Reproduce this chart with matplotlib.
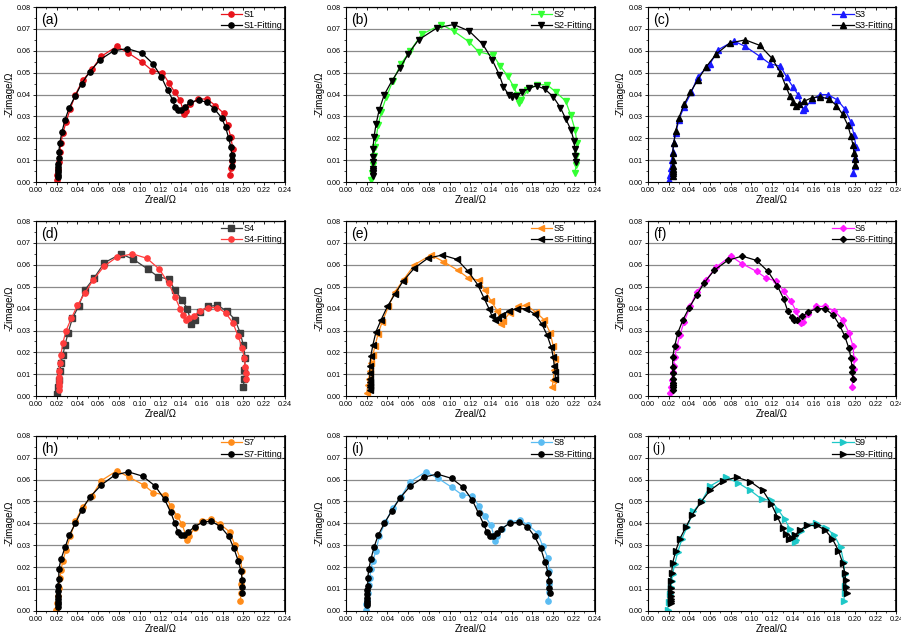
import matplotlib
matplotlib.use("Agg")
import matplotlib.pyplot as plt
from matplotlib.ticker import MultipleLocator, FormatStrFormatter, NullFormatter
import numpy as np

plt.rcParams["font.family"] = ["Liberation Sans", "DejaVu Sans"]

# ---- data (Zreal, -Zimage) ----
s1_x = [0.020, 0.020, 0.021, 0.022, 0.023, 0.024, 0.026, 0.029, 0.033, 0.038, 0.045, 0.054, 0.063, 0.078, 0.089, 0.102, 0.112, 0.122,
        0.128, 0.134, 0.139, 0.143, 0.145, 0.149, 0.156, 0.165, 0.173, 0.181, 0.185, 0.188, 0.190, 0.189, 0.188, 0.187]
s1_y = [0.001, 0.0035, 0.006, 0.009, 0.014, 0.018, 0.0225, 0.0275, 0.0335, 0.040, 0.0465, 0.0515, 0.0575, 0.062, 0.059, 0.055, 0.051, 0.050,
        0.0455, 0.041, 0.0375, 0.031, 0.0325, 0.0355, 0.038, 0.038, 0.035, 0.0315, 0.026, 0.0205, 0.015, 0.0095, 0.0065, 0.0035]
s1f_x = [0.021, 0.021, 0.021, 0.021, 0.021, 0.021, 0.022, 0.022, 0.023, 0.025, 0.028, 0.032, 0.038, 0.044, 0.052, 0.062, 0.075, 0.088, 0.102,
         0.113, 0.121, 0.127, 0.132, 0.134, 0.137, 0.140, 0.144, 0.149, 0.157, 0.165, 0.172, 0.179, 0.183, 0.186, 0.188, 0.189, 0.189, 0.189]
s1f_y = [0.0025, 0.0035, 0.0045, 0.0055, 0.007, 0.0085, 0.011, 0.014, 0.018, 0.023, 0.0285, 0.034, 0.0395, 0.045, 0.0505, 0.056, 0.060, 0.061, 0.059,
         0.054, 0.048, 0.042, 0.0375, 0.0345, 0.033, 0.033, 0.0345, 0.0365, 0.0375, 0.0365, 0.0335, 0.0295, 0.025, 0.020, 0.016, 0.0125, 0.010, 0.0075]

s2_x = [0.024, 0.025, 0.026, 0.027, 0.028, 0.029, 0.031, 0.034, 0.039, 0.045, 0.053, 0.062, 0.073, 0.092, 0.104, 0.119, 0.128, 0.142,
        0.149, 0.156, 0.162, 0.165, 0.167, 0.169, 0.175, 0.184, 0.194, 0.203, 0.212, 0.217, 0.221, 0.223, 0.222, 0.222, 0.221]
s2_y = [0.001, 0.004, 0.008, 0.012, 0.016, 0.020, 0.026, 0.032, 0.039, 0.046, 0.054, 0.060, 0.0675, 0.072, 0.069, 0.064, 0.0595, 0.058,
        0.053, 0.0485, 0.0435, 0.040, 0.036, 0.0375, 0.042, 0.0445, 0.0445, 0.041, 0.037, 0.0305, 0.024, 0.018, 0.012, 0.008, 0.004]
s2f_x = [0.026, 0.026, 0.026, 0.026, 0.026, 0.026, 0.026, 0.027, 0.029, 0.032, 0.037, 0.044, 0.052, 0.060, 0.070, 0.088, 0.104, 0.119, 0.132,
         0.141, 0.148, 0.152, 0.157, 0.160, 0.164, 0.170, 0.177, 0.184, 0.192, 0.200, 0.207, 0.212, 0.217, 0.220, 0.221, 0.221, 0.222]
s2f_y = [0.003, 0.004, 0.005, 0.006, 0.009, 0.0115, 0.015, 0.0205, 0.0265, 0.033, 0.040, 0.046, 0.052, 0.0585, 0.065, 0.0705, 0.072, 0.069, 0.063,
         0.056, 0.049, 0.0435, 0.040, 0.039, 0.0395, 0.041, 0.043, 0.044, 0.0425, 0.039, 0.034, 0.029, 0.024, 0.019, 0.015, 0.012, 0.009]

s3_x = [0.020, 0.021, 0.022, 0.023, 0.024, 0.025, 0.027, 0.030, 0.035, 0.042, 0.048, 0.057, 0.060, 0.068, 0.083, 0.094, 0.108, 0.118, 0.128,
        0.134, 0.140, 0.145, 0.150, 0.152, 0.158, 0.166, 0.174, 0.183, 0.190, 0.196, 0.199, 0.201, 0.200, 0.200, 0.198]
s3_y = [0.001, 0.0035, 0.0065, 0.010, 0.014, 0.018, 0.0225, 0.0285, 0.0345, 0.041, 0.048, 0.0525, 0.054, 0.0605, 0.0645, 0.062, 0.0575, 0.054, 0.053,
        0.048, 0.0435, 0.040, 0.033, 0.034, 0.0375, 0.040, 0.040, 0.0375, 0.0335, 0.0275, 0.0215, 0.016, 0.011, 0.0075, 0.004]
s3f_x = [0.024, 0.024, 0.024, 0.024, 0.024, 0.024, 0.024, 0.025, 0.027, 0.030, 0.035, 0.041, 0.048, 0.056, 0.066, 0.079, 0.094, 0.108, 0.120,
         0.128, 0.133, 0.137, 0.140, 0.143, 0.146, 0.151, 0.158, 0.166, 0.175, 0.182, 0.188, 0.193, 0.196, 0.198, 0.199, 0.200, 0.200]
s3f_y = [0.003, 0.004, 0.005, 0.006, 0.0075, 0.010, 0.0135, 0.018, 0.0235, 0.0295, 0.0355, 0.041, 0.0465, 0.0525, 0.0585, 0.0635, 0.065, 0.0625, 0.0565,
         0.050, 0.044, 0.0395, 0.0365, 0.035, 0.0355, 0.037, 0.0385, 0.039, 0.038, 0.035, 0.031, 0.026, 0.021, 0.017, 0.0135, 0.0105, 0.008]

s4_x = [0.020, 0.021, 0.022, 0.023, 0.024, 0.026, 0.028, 0.031, 0.035, 0.041, 0.047, 0.056, 0.066, 0.082, 0.094, 0.108, 0.118, 0.128,
        0.134, 0.141, 0.146, 0.150, 0.153, 0.158, 0.166, 0.175, 0.184, 0.192, 0.197, 0.200, 0.202, 0.201, 0.201, 0.200]
s4_y = [0.001, 0.004, 0.0075, 0.0115, 0.015, 0.019, 0.0235, 0.029, 0.0355, 0.041, 0.0485, 0.054, 0.061, 0.065, 0.0625, 0.058, 0.0545, 0.0535,
        0.0485, 0.044, 0.040, 0.033, 0.035, 0.0385, 0.041, 0.0415, 0.039, 0.035, 0.029, 0.0235, 0.0175, 0.012, 0.008, 0.004]
s4f_x = [0.022, 0.022, 0.022, 0.022, 0.022, 0.022, 0.023, 0.024, 0.026, 0.029, 0.034, 0.040, 0.047, 0.055, 0.066, 0.078, 0.093, 0.107, 0.119,
         0.128, 0.134, 0.139, 0.142, 0.145, 0.148, 0.152, 0.158, 0.166, 0.175, 0.183, 0.190, 0.195, 0.199, 0.201, 0.202, 0.203, 0.203]
s4f_y = [0.003, 0.0045, 0.006, 0.0075, 0.009, 0.0115, 0.015, 0.019, 0.0245, 0.030, 0.0355, 0.0415, 0.047, 0.053, 0.0595, 0.0635, 0.065, 0.063, 0.058,
         0.0515, 0.0455, 0.040, 0.037, 0.035, 0.0355, 0.0365, 0.039, 0.0405, 0.0405, 0.038, 0.0335, 0.0275, 0.022, 0.0175, 0.0135, 0.0105, 0.008]

s5_x = [0.020, 0.021, 0.022, 0.023, 0.024, 0.026, 0.028, 0.031, 0.035, 0.041, 0.047, 0.056, 0.066, 0.082, 0.094, 0.108, 0.118, 0.128,
        0.134, 0.140, 0.146, 0.150, 0.152, 0.158, 0.166, 0.174, 0.183, 0.191, 0.197, 0.200, 0.202, 0.201, 0.200, 0.199]
s5_y = [0.0015, 0.005, 0.008, 0.0115, 0.015, 0.019, 0.023, 0.0285, 0.034, 0.041, 0.0475, 0.0535, 0.060, 0.0645, 0.0615, 0.0575, 0.054, 0.053,
        0.0485, 0.0435, 0.039, 0.033, 0.0345, 0.038, 0.041, 0.0415, 0.0385, 0.035, 0.029, 0.023, 0.017, 0.012, 0.0075, 0.004]
s5f_x = [0.023, 0.023, 0.023, 0.023, 0.023, 0.023, 0.023, 0.024, 0.026, 0.029, 0.034, 0.040, 0.047, 0.055, 0.066, 0.079, 0.093, 0.107, 0.118,
         0.127, 0.133, 0.138, 0.141, 0.144, 0.147, 0.151, 0.157, 0.165, 0.174, 0.182, 0.189, 0.194, 0.198, 0.200, 0.201, 0.202, 0.202]
s5f_y = [0.003, 0.004, 0.005, 0.0065, 0.008, 0.0105, 0.014, 0.0185, 0.0235, 0.0295, 0.035, 0.041, 0.0465, 0.0525, 0.0585, 0.063, 0.0645, 0.0625, 0.057,
         0.051, 0.045, 0.040, 0.0365, 0.035, 0.0355, 0.037, 0.039, 0.040, 0.040, 0.0375, 0.033, 0.028, 0.0225, 0.018, 0.014, 0.011, 0.008]

s6_x = [0.021, 0.022, 0.023, 0.024, 0.025, 0.026, 0.028, 0.031, 0.035, 0.041, 0.047, 0.056, 0.066, 0.080, 0.091, 0.105, 0.114, 0.124,
        0.131, 0.138, 0.143, 0.148, 0.150, 0.155, 0.162, 0.171, 0.180, 0.188, 0.194, 0.198, 0.199, 0.199, 0.198, 0.197]
s6_y = [0.0015, 0.004, 0.0075, 0.011, 0.014, 0.018, 0.0225, 0.028, 0.034, 0.041, 0.0475, 0.053, 0.059, 0.064, 0.0605, 0.057, 0.054, 0.0525,
        0.048, 0.0435, 0.039, 0.0335, 0.034, 0.0375, 0.041, 0.041, 0.039, 0.035, 0.029, 0.023, 0.017, 0.0125, 0.008, 0.004]
s6f_x = [0.024, 0.024, 0.024, 0.024, 0.024, 0.024, 0.024, 0.024, 0.026, 0.029, 0.034, 0.040, 0.047, 0.054, 0.064, 0.077, 0.091, 0.105, 0.116,
         0.125, 0.131, 0.135, 0.139, 0.141, 0.144, 0.149, 0.155, 0.163, 0.171, 0.179, 0.185, 0.190, 0.194, 0.196, 0.197, 0.197, 0.198]
s6f_y = [0.003, 0.004, 0.005, 0.006, 0.008, 0.0105, 0.0135, 0.018, 0.023, 0.029, 0.035, 0.0405, 0.046, 0.0515, 0.0575, 0.062, 0.064, 0.062, 0.057,
         0.0505, 0.0445, 0.039, 0.036, 0.035, 0.035, 0.0365, 0.0385, 0.040, 0.040, 0.037, 0.0325, 0.0275, 0.022, 0.0175, 0.0135, 0.011, 0.008]

s7_x = [0.019, 0.020, 0.021, 0.022, 0.023, 0.024, 0.026, 0.029, 0.033, 0.038, 0.045, 0.054, 0.063, 0.078, 0.090, 0.104, 0.113, 0.124,
        0.130, 0.136, 0.141, 0.146, 0.148, 0.153, 0.160, 0.169, 0.178, 0.187, 0.192, 0.197, 0.199, 0.198, 0.198, 0.197]
s7_y = [0.0005, 0.0035, 0.007, 0.0105, 0.015, 0.0185, 0.023, 0.028, 0.034, 0.041, 0.0475, 0.0525, 0.0595, 0.064, 0.061, 0.0575, 0.054, 0.053,
        0.048, 0.0435, 0.0395, 0.0325, 0.034, 0.038, 0.041, 0.042, 0.0395, 0.036, 0.030, 0.024, 0.018, 0.0125, 0.008, 0.0045]
s7f_x = [0.021, 0.021, 0.021, 0.021, 0.021, 0.021, 0.021, 0.022, 0.022, 0.024, 0.028, 0.032, 0.038, 0.044, 0.052, 0.063, 0.076, 0.089, 0.103,
         0.115, 0.124, 0.130, 0.134, 0.137, 0.140, 0.143, 0.147, 0.153, 0.161, 0.169, 0.178, 0.186, 0.191, 0.195, 0.198, 0.199, 0.199, 0.199]
s7f_y = [0.002, 0.003, 0.004, 0.0055, 0.007, 0.009, 0.0115, 0.0145, 0.019, 0.0235, 0.029, 0.0345, 0.040, 0.046, 0.052, 0.0575, 0.062, 0.0635, 0.0615,
         0.057, 0.051, 0.045, 0.040, 0.036, 0.0345, 0.0345, 0.036, 0.0385, 0.0405, 0.041, 0.0385, 0.034, 0.0285, 0.023, 0.018, 0.014, 0.011, 0.008]

s8_x = [0.019, 0.019, 0.020, 0.021, 0.022, 0.023, 0.024, 0.026, 0.029, 0.032, 0.038, 0.045, 0.053, 0.062, 0.077, 0.089, 0.102, 0.112, 0.122,
        0.128, 0.134, 0.140, 0.144, 0.146, 0.151, 0.158, 0.168, 0.176, 0.185, 0.190, 0.195, 0.196, 0.196, 0.196, 0.195]
s8_y = [0.0005, 0.003, 0.005, 0.008, 0.012, 0.015, 0.019, 0.023, 0.0275, 0.034, 0.0405, 0.047, 0.052, 0.059, 0.0635, 0.0605, 0.0565, 0.053, 0.0525,
        0.048, 0.0435, 0.039, 0.032, 0.034, 0.0375, 0.0405, 0.0415, 0.039, 0.0355, 0.0295, 0.024, 0.018, 0.0125, 0.0085, 0.0045]
s8f_x = [0.020, 0.020, 0.020, 0.020, 0.020, 0.020, 0.021, 0.021, 0.022, 0.024, 0.027, 0.031, 0.037, 0.044, 0.052, 0.062, 0.075, 0.088, 0.102,
         0.113, 0.122, 0.128, 0.133, 0.136, 0.139, 0.142, 0.146, 0.150, 0.158, 0.167, 0.175, 0.182, 0.188, 0.192, 0.195, 0.196, 0.196, 0.197]
s8f_y = [0.0025, 0.0035, 0.0045, 0.006, 0.0075, 0.0095, 0.0115, 0.015, 0.019, 0.0235, 0.029, 0.0345, 0.040, 0.0455, 0.0515, 0.057, 0.061, 0.0625, 0.0605,
         0.0565, 0.0505, 0.0445, 0.0395, 0.036, 0.034, 0.034, 0.0355, 0.0375, 0.040, 0.0405, 0.0385, 0.034, 0.0285, 0.0225, 0.0175, 0.0135, 0.0105, 0.008]

s9_x = [0.019, 0.020, 0.021, 0.022, 0.023, 0.024, 0.026, 0.029, 0.033, 0.038, 0.044, 0.052, 0.060, 0.075, 0.087, 0.099, 0.110, 0.119,
        0.126, 0.132, 0.137, 0.142, 0.143, 0.148, 0.154, 0.162, 0.172, 0.180, 0.186, 0.189, 0.190, 0.190, 0.190, 0.189]
s9_y = [0.0005, 0.004, 0.0075, 0.011, 0.0135, 0.017, 0.0215, 0.027, 0.033, 0.0385, 0.0455, 0.050, 0.057, 0.061, 0.0585, 0.055, 0.051, 0.0505,
        0.046, 0.042, 0.0375, 0.0315, 0.0325, 0.0365, 0.039, 0.040, 0.038, 0.0345, 0.029, 0.0225, 0.017, 0.0115, 0.008, 0.0045]
s9f_x = [0.022, 0.022, 0.022, 0.022, 0.022, 0.022, 0.022, 0.023, 0.024, 0.027, 0.031, 0.037, 0.043, 0.051, 0.060, 0.073, 0.086, 0.099, 0.111,
         0.119, 0.125, 0.130, 0.133, 0.136, 0.139, 0.142, 0.147, 0.154, 0.163, 0.171, 0.178, 0.184, 0.188, 0.190, 0.191, 0.191, 0.192]
s9f_y = [0.0035, 0.0045, 0.0055, 0.007, 0.0085, 0.0105, 0.0135, 0.0175, 0.022, 0.0275, 0.033, 0.0385, 0.044, 0.0495, 0.055, 0.0595, 0.061, 0.059, 0.055,
         0.049, 0.043, 0.038, 0.035, 0.033, 0.0335, 0.0345, 0.037, 0.039, 0.039, 0.037, 0.033, 0.0275, 0.022, 0.0175, 0.014, 0.011, 0.008]

panel_tags = ["(a)", "(b)", "(c)", "(d)", "(e)", "(f)", "(h)", "(i)", "(j)"]
sample_names = ["S1", "S2", "S3", "S4", "S5", "S6", "S7", "S8", "S9"]
data_colors = ["#e8141c", "#33ff33", "#1a1aff", "#3c3c3c", "#ff8c1a", "#ff1aff", "#ff8c1a", "#5bbcf2", "#1ec8c8"]
fit_colors = ["black", "black", "black", "#ff3c3c", "black", "black", "black", "black", "black"]
markers = ["o", "v", "^", "s", "<", "D", "o", "o", ">"]
fit_markers = ["o", "v", "^", "o", "<", "D", "o", "o", ">"]

meas = [(s1_x, s1_y), (s2_x, s2_y), (s3_x, s3_y), (s4_x, s4_y), (s5_x, s5_y),
        (s6_x, s6_y), (s7_x, s7_y), (s8_x, s8_y), (s9_x, s9_y)]
fits = [(s1f_x, s1f_y), (s2f_x, s2f_y), (s3f_x, s3f_y), (s4f_x, s4f_y), (s5f_x, s5f_y),
        (s6f_x, s6f_y), (s7f_x, s7f_y), (s8f_x, s8f_y), (s9f_x, s9f_y)]

fig = plt.figure(figsize=(9.01, 6.37), dpi=100)

lefts = [0.040, 0.384, 0.719]
bottoms = [0.714, 0.378, 0.041]
w, h = 0.276, 0.275

for i in range(9):
    r, c = divmod(i, 3)
    ax = fig.add_axes([lefts[c], bottoms[r], w, h])
    for yy in np.arange(0.01, 0.08, 0.01):
        ax.axhline(yy, color="#8a8a8a", lw=0.9, zorder=0)
    ms = 3.8 if markers[i] != "D" else 3.1
    fms = 3.8 if fit_markers[i] != "D" else 3.1
    ax.plot(*meas[i], color=data_colors[i], marker=markers[i], ms=ms, lw=0.9, label=sample_names[i])
    ax.plot(*fits[i], color=fit_colors[i], marker=fit_markers[i], ms=fms, lw=0.9,
            label=sample_names[i] + "-Fitting")
    ax.set_xlim(0, 0.24)
    ax.set_ylim(0, 0.08)
    ax.xaxis.set_major_locator(MultipleLocator(0.02))
    ax.yaxis.set_major_locator(MultipleLocator(0.01))
    ax.xaxis.set_minor_locator(MultipleLocator(0.01))
    ax.yaxis.set_minor_locator(MultipleLocator(0.005))
    ax.xaxis.set_major_formatter(FormatStrFormatter("%.2f"))
    ax.yaxis.set_major_formatter(FormatStrFormatter("%.2f"))
    ax.tick_params(which="major", direction="out", length=2.5, width=0.6, labelsize=5.2, pad=1.0)
    ax.tick_params(which="minor", direction="out", length=1.3, width=0.5)
    for sp in ax.spines.values():
        sp.set_linewidth(0.8)
    ax.spines["right"].set_linewidth(1.2)

    # inward ticks on the top and right edges, no labels
    top = ax.secondary_xaxis("top")
    top.xaxis.set_major_locator(MultipleLocator(0.02))
    top.xaxis.set_minor_locator(MultipleLocator(0.01))
    top.xaxis.set_major_formatter(NullFormatter())
    top.tick_params(which="major", direction="in", length=2.5, width=0.6)
    top.tick_params(which="minor", direction="in", length=1.3, width=0.5)
    right = ax.secondary_yaxis("right")
    right.yaxis.set_major_locator(MultipleLocator(0.01))
    right.yaxis.set_minor_locator(MultipleLocator(0.005))
    right.yaxis.set_major_formatter(NullFormatter())
    right.tick_params(which="major", direction="in", length=2.5, width=0.6)
    right.tick_params(which="minor", direction="in", length=1.3, width=0.5)

    ax.set_xlabel("Zreal/Ω", fontsize=7, labelpad=1)
    ax.set_ylabel("-Zimage/Ω", fontsize=7, labelpad=2)
    tag_font = ["Liberation Serif"] if panel_tags[i] == "(j)" else ["Liberation Sans"]
    ax.text(0.02, 0.965, panel_tags[i], transform=ax.transAxes, ha="left", va="top",
            fontsize=10, family=tag_font)
    ax.legend(loc="upper right", frameon=False, fontsize=6.5, handlelength=2.4,
              handletextpad=0.1, borderaxespad=0.2, labelspacing=0.3, borderpad=0.1)

fig.savefig("out.png", dpi=100)
